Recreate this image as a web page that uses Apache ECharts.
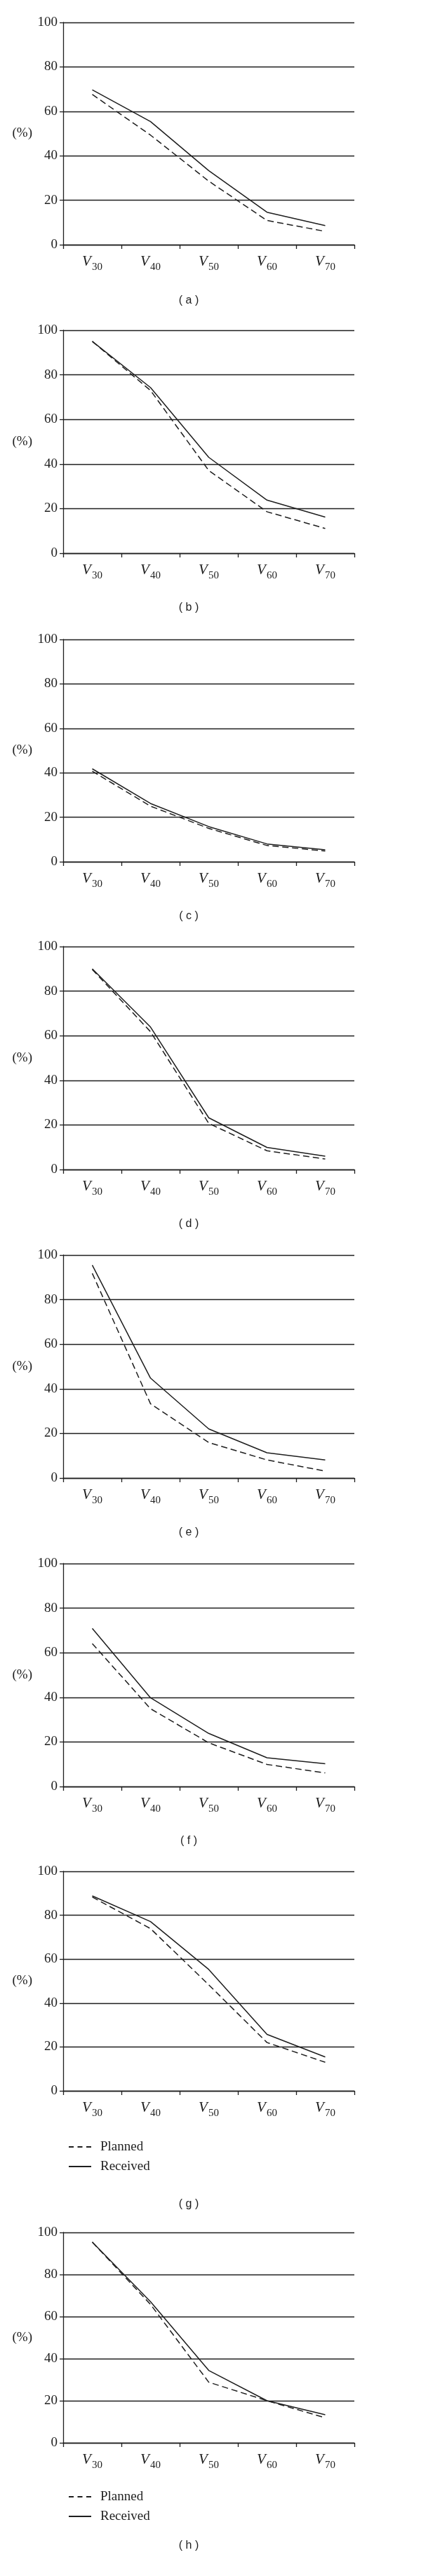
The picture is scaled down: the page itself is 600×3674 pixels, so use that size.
<!DOCTYPE html>
<html>
<head>
<meta charset="utf-8">
<script src="https://cdn.jsdelivr.net/npm/echarts@6/dist/echarts.min.js"></script>
<style>
html,body{margin:0;padding:0;background:#fff;}
#chart{width:600px;height:3674px;}
</style>
</head>
<body>
<div id="chart"></div>
<script>
// ---- data ----
var categories = ['V30', 'V40', 'V50', 'V60', 'V70'];
var yTicks = [0, 20, 40, 60, 80, 100];
var panelNames = ['a', 'b', 'c', 'd', 'e', 'f', 'g', 'h'];
var seriesNames = ['Planned', 'Received'];

var planned_a  = [67.6, 49.3, 28.6, 10.9, 6.0];
var received_a = [69.7, 55.4, 33.3, 14.6, 8.6];
var planned_b  = [95.0, 73.0, 37.1, 18.6, 11.1];
var received_b = [95.0, 74.3, 43.0, 23.8, 16.2];
var planned_c  = [40.7, 25.0, 15.0, 7.3, 4.8];
var received_c = [41.8, 26.2, 15.8, 8.0, 5.4];
var planned_d  = [89.7, 61.8, 20.7, 8.4, 4.7];
var received_d = [90.0, 63.9, 23.2, 9.9, 6.0];
var planned_e  = [91.8, 33.3, 15.9, 8.1, 3.1];
var received_e = [95.5, 44.8, 22.0, 11.3, 8.1];
var planned_f  = [64.1, 34.9, 19.6, 9.9, 6.1];
var received_f = [70.9, 39.8, 23.8, 12.9, 10.2];
var planned_g  = [88.3, 73.9, 48.3, 22.0, 13.0];
var received_g = [88.8, 77.1, 55.3, 25.7, 15.4];
var planned_h  = [95.4, 65.8, 28.8, 20.0, 11.9];
var received_h = [95.4, 67.1, 34.4, 20.0, 13.3];

var plannedAll  = [planned_a, planned_b, planned_c, planned_d, planned_e, planned_f, planned_g, planned_h];
var receivedAll = [received_a, received_b, received_c, received_d, received_e, received_f, received_g, received_h];

// ---- layout ----
var gridTops    = [32, 471, 912, 1350, 1790, 2230, 2669, 3184];
var gridHeights = [317, 318, 317, 318, 318, 318, 313, 300];
var labelY      = [426, 864, 1304, 1743, 2183, 2623, 3141, 3628];
var legendTops  = [null, null, null, null, null, null, 3046, 3545];

var SERIF = "'Liberation Serif', 'DejaVu Serif', serif";
var INK = '#1e1e1e';
var DASH_ICON = 'path://M0,0h7v1.4h-7z M12.5,0h7v1.4h-7z M25,0h7v1.4h-7z';
var SOLID_ICON = 'path://M0,0h32v1.4h-32z';

var grids = [], xAxes = [], yAxes = [], series = [], titles = [], legends = [];
for (var i = 0; i < 8; i++) {
  grids.push({left: 90, right: 95, top: gridTops[i], height: gridHeights[i], containLabel: false});
  xAxes.push({
    type: 'category', gridIndex: i, data: categories, boundaryGap: true,
    axisLine: {show: true, lineStyle: {color: INK, width: 1.3}},
    axisTick: {show: true, length: 6, inside: false, lineStyle: {color: INK, width: 1.3}},
    axisLabel: {
      margin: 14,
      formatter: function (v) { return '{v|V}{s|' + v.slice(1) + '}'; },
      rich: {
        v: {fontFamily: SERIF, fontStyle: 'italic', fontSize: 21, color: INK, verticalAlign: 'bottom', padding: [0, 1, 5, 0]},
        s: {fontFamily: SERIF, fontSize: 15, color: INK, verticalAlign: 'bottom', padding: [0, 0, 0, 0]}
      }
    },
    splitLine: {show: false}
  });
  yAxes.push({
    type: 'value', gridIndex: i, min: yTicks[0], max: yTicks[yTicks.length - 1], interval: 20,
    name: '(%)', nameLocation: 'middle', nameRotate: 0, nameGap: 44,
    nameTextStyle: {fontFamily: SERIF, fontSize: 19, color: INK},
    axisLine: {show: true, lineStyle: {color: INK, width: 1.3}},
    axisTick: {show: true, length: 5, lineStyle: {color: INK, width: 1.3}},
    axisLabel: {fontFamily: SERIF, fontSize: 19, color: INK, margin: 8},
    splitLine: {show: true, lineStyle: {color: INK, width: 1.3}}
  });
  series.push({
    name: seriesNames[0], type: 'line', xAxisIndex: i, yAxisIndex: i, data: plannedAll[i],
    symbol: 'none', silent: true, animation: false,
    lineStyle: {color: INK, width: 1.5, type: [9, 5]}, itemStyle: {color: INK}
  });
  series.push({
    name: seriesNames[1], type: 'line', xAxisIndex: i, yAxisIndex: i, data: receivedAll[i],
    symbol: 'none', silent: true, animation: false,
    lineStyle: {color: INK, width: 1.5, type: 'solid'}, itemStyle: {color: INK}
  });
  titles.push({
    text: '( ' + panelNames[i] + ' )', left: 264, top: labelY[i] - 10, textAlign: 'center',
    textStyle: {fontFamily: "'Liberation Sans', Arial, sans-serif", fontSize: 16, fontWeight: 'normal', color: INK}
  });
  if (legendTops[i] !== null) {
    legends.push({
      data: [
        {name: seriesNames[0], icon: DASH_ICON},
        {name: seriesNames[1], icon: SOLID_ICON}
      ],
      orient: 'vertical', left: 93, top: legendTops[i],
      itemWidth: 32, itemHeight: 2, itemGap: 6, selectedMode: false,
      symbolKeepAspect: false,
      itemStyle: {color: INK, borderWidth: 0},
      textStyle: {fontFamily: SERIF, fontSize: 19, color: INK, padding: [0, 0, 0, 8], lineHeight: 22}
    });
  }
}

var chart = echarts.init(document.getElementById('chart'), null, {renderer: 'canvas'});
chart.setOption({
  animation: false,
  backgroundColor: '#ffffff',
  title: titles,
  legend: legends,
  grid: grids,
  xAxis: xAxes,
  yAxis: yAxes,
  series: series
});
</script>
</body>
</html>
